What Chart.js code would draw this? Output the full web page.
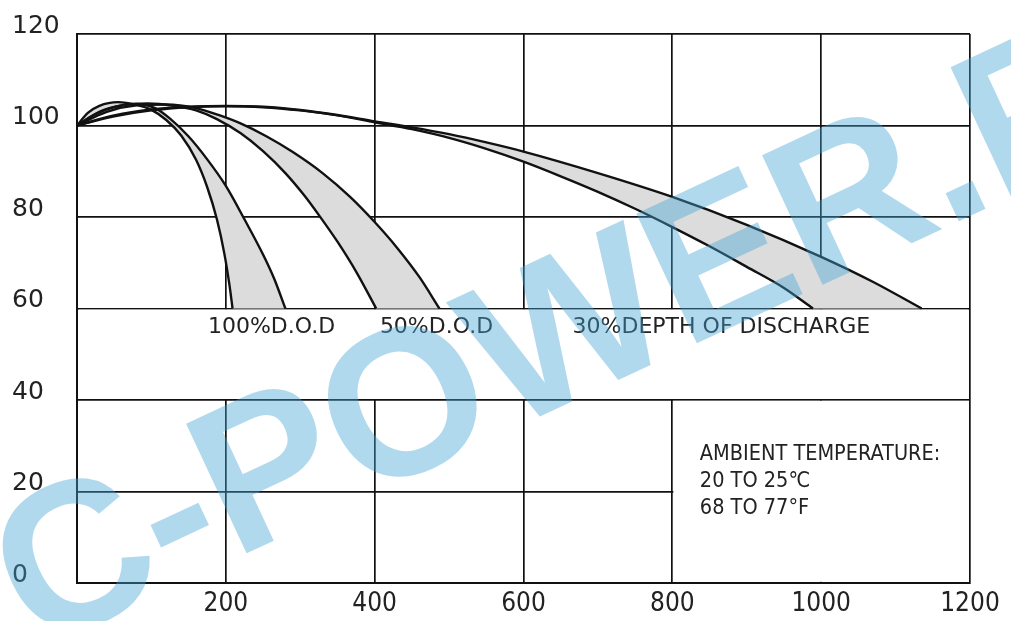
<!DOCTYPE html>
<html>
<head>
<meta charset="utf-8">
<script src="https://cdn.jsdelivr.net/npm/chart.js@4.4.1/dist/chart.umd.min.js"></script>
<style>
  html, body { margin: 0; padding: 0; background: #fff; }
  #wrap { width: 1011px; height: 621px; position: relative; }
</style>
</head>
<body>
<div id="wrap"><canvas id="lifeChart"></canvas></div>
<script>
// cycle life vs capacity (%)
const dod100Left = [[0,100],[15,102.8],[30,104.3],[55,105.1],[80,104.5],[100,103.4],[120,101.2],[140,97.8],[160,92.5],[175,86.5],[188,79.5],[198,72],[205,65],[209,60]]
const dod100Right = [[0,100],[25,102.5],[50,104],[80,104.7],[105,103.8],[125,101.5],[150,97.6],[175,92.6],[200,86.8],[225,79.5],[250,71.8],[265,66.5],[280,60]]
const dod50Left = [[0,100],[30,103],[60,104.4],[95,104.8],[130,104.3],[160,103.3],[188,101.4],[220,98.3],[250,94.4],[280,89.6],[305,84.8],[326,80.2],[350,74.6],[376,67.8],[402,60]]
const dod50Right = [[0,100],[40,103],[80,104.4],[120,104.6],[160,103.8],[190,102.3],[219,100.5],[255,97.6],[290,94.2],[330,89.6],[367,84.4],[400,78.9],[430,73.3],[460,66.9],[487,60]]
const dod30Upper = [[0,100],[50,102.2],[100,103.5],[150,104.1],[200,104.3],[250,104.1],[300,103.4],[350,102.3],[400,100.9],[450,99.6],[500,98.1],[550,96.3],[600,94.3],[700,89.6],[800,84.4],[900,78.3],[1000,71.3],[1070,65.8],[1135,60]]
const dod30Lower = [[0,100],[50,102],[100,103.3],[150,104],[200,104.2],[250,104],[300,103.3],[350,102.2],[400,100.7],[450,99.2],[500,97.3],[550,94.9],[600,92.1],[650,88.9],[700,85.5],[750,81.8],[800,77.8],[850,73.6],[900,69.1],[950,64.5],[989,60]]

const xTicks = [0, 200, 400, 600, 800, 1000, 1200]
const yTicks = [0, 20, 40, 60, 80, 100, 120]

const curveLabels = ['100%D.O.D', '50%D.O.D', '30%DEPTH OF DISCHARGE']
const curveLabelX = [176, 407, 666]
const curveLabelY = 55.8
const ambientLines = ['AMBIENT TEMPERATURE:', '20 TO 25\u2103', '68 TO 77\u00B0F']
const ambientX = 837
const ambientY = [28, 22.3, 16.2]

// pairs of datasets whose gap is shaded grey
const bands = [[0, 1], [2, 3], [4, 5]]

const toPts = arr => arr.map(p => ({ x: p[0], y: p[1] }))

function curve(pts) {
    return {
        data: toPts(pts),
        borderColor: '#111',
        borderWidth: 2.4,
        pointRadius: 0,
        cubicInterpolationMode: 'monotone',
        fill: false
    }
}

const sheetExtras = {
    id: 'sheetExtras',
    beforeDatasetsDraw(chart) {
        const { ctx, chartArea, scales: { x, y } } = chart
        ctx.save()
        // white boxes behind the labels, as in the original sheet
        ctx.fillStyle = '#fff'
        ctx.fillRect(x.getPixelForValue(0) + 1.5, y.getPixelForValue(60) + 1,
            x.getPixelForValue(1200) - x.getPixelForValue(0) - 3, y.getPixelForValue(40) - y.getPixelForValue(60) - 2)
        ctx.fillRect(x.getPixelForValue(800) + 1, y.getPixelForValue(40) + 0.8,
            x.getPixelForValue(1200) - x.getPixelForValue(800) - 2, y.getPixelForValue(0) - y.getPixelForValue(40) - 2)

        // grey bands between each pair of curves
        ctx.fillStyle = '#dcdcdc'
        bands.forEach(([a, b]) => {
            const la = chart.getDatasetMeta(a).dataset
            const lb = chart.getDatasetMeta(b).dataset
            la.updateControlPoints(chartArea, 'x')
            lb.updateControlPoints(chartArea, 'x')
            ctx.beginPath()
            la.pathSegment(ctx, la.segments[0], { move: true })
            lb.pathSegment(ctx, lb.segments[0], { move: false, reverse: true })
            ctx.closePath()
            ctx.fill()
        })
        ctx.restore()
    },
    afterDatasetsDraw(chart) {
        const { ctx, scales: { x, y } } = chart
        ctx.save()
        ctx.fillStyle = '#222'
        ctx.textBaseline = 'middle'
        ctx.textAlign = 'left'
        ctx.font = '22px "DejaVu Sans"'
        curveLabels.forEach((t, i) => {
            ctx.fillText(t, x.getPixelForValue(curveLabelX[i]), y.getPixelForValue(curveLabelY))
        })
        ctx.font = '21.5px "DejaVu Sans Condensed", "DejaVu Sans"'
        ambientLines.forEach((t, i) => {
            ctx.fillText(t, x.getPixelForValue(ambientX), y.getPixelForValue(ambientY[i]))
        })
        ctx.restore()
    }
}

const watermark = {
    id: 'watermark',
    afterDraw(chart) {
        const ctx = chart.ctx
        ctx.save()
        ctx.translate(35, 652)
        ctx.rotate(-25 * Math.PI / 180)
        ctx.font = 'bold 208px "Liberation Sans"'
        ctx.fillStyle = 'rgba(70, 165, 215, 0.42)'
        ctx.fillText('C-POWER.P', 0, 0)
        ctx.restore()
    }
}

const ctx = document.getElementById('lifeChart').getContext('2d')

// eslint-disable-next-line no-undef
const lifeChart = new Chart(ctx, {
    type: 'line',
    data: {
        datasets: [
            curve(dod100Left),
            curve(dod100Right),
            curve(dod50Left),
            curve(dod50Right),
            curve(dod30Upper),
            curve(dod30Lower)
        ]
    },
    options: {
        responsive: true,
        maintainAspectRatio: false,
        animation: false,
        layout: { padding: { left: 12, top: 34, right: 41, bottom: 0 } },
        plugins: {
            legend: { display: false },
            tooltip: { enabled: false }
        },
        scales: {
            x: {
                type: 'linear',
                min: 0,
                max: 1200,
                afterBuildTicks: s => { s.ticks = xTicks.map(v => ({ value: v })) },
                afterFit: s => { s.height = 38 },
                grid: { color: '#111', lineWidth: 1.7, drawTicks: false },
                border: { color: '#111', width: 2 },
                ticks: {
                    padding: 6,
                    color: '#222',
                    font: { family: '"DejaVu Sans Condensed", "DejaVu Sans"', size: 26 },
                    callback: v => (v === 0 ? '' : v)
                }
            },
            y: {
                min: 0,
                max: 120,
                afterBuildTicks: s => { s.ticks = yTicks.map(v => ({ value: v })) },
                afterFit: s => { s.width = 65 },
                grid: { color: '#111', lineWidth: 1.7, drawTicks: false },
                border: { color: '#111', width: 2 },
                ticks: {
                    crossAlign: 'far',
                    labelOffset: -8,
                    color: '#222',
                    font: { family: '"DejaVu Sans"', size: 25 }
                }
            }
        }
    },
    plugins: [sheetExtras, watermark]
})
</script>
</body>
</html>
